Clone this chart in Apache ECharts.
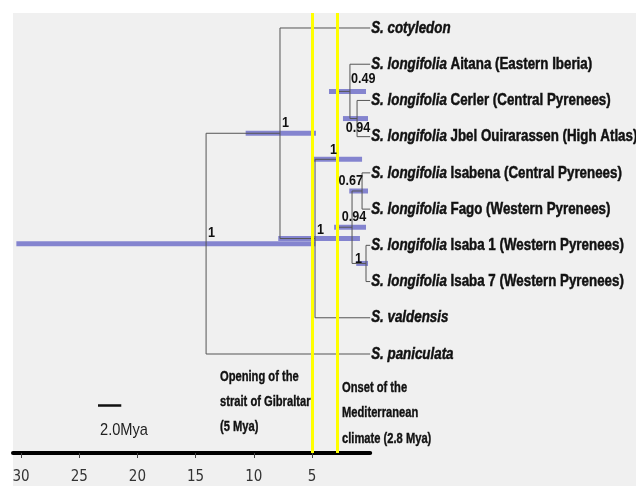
<!DOCTYPE html>
<html><head><meta charset="utf-8">
<script src="https://cdn.jsdelivr.net/npm/echarts@6/dist/echarts.min.js"></script>
<style>html,body{margin:0;padding:0;background:#fff}#c{width:636px;height:486px}</style>
</head><body><div id="c"></div>
<script>
// ---------------- data ----------------
const tipIds = ['cotyledon','aitana','cerler','jbel','isabena','fago','isaba1','isaba7','valdensis','paniculata'];
const tipGenus = ['S. cotyledon','S. longifolia','S. longifolia','S. longifolia','S. longifolia','S. longifolia','S. longifolia','S. longifolia','S. valdensis','S. paniculata'];
const tipLocality = ['','Aitana (Eastern Iberia)','Cerler (Central Pyrenees)','Jbel Ouirarassen (High Atlas)','Isabena (Central Pyrenees)','Fago (Western Pyrenees)','Isaba 1 (Western Pyrenees)','Isaba 7 (Western Pyrenees)','',''];
const tipAges = [0,0,0,0,0,0,0,0,0,0];

const nodeIds = ['root','nA','nB','nC','n049','n094a','n094b','n067','nIsaba'];
const nodeChildren = [['nA','paniculata'],['cotyledon','nB'],['nC','valdensis'],['n049','n094b'],['aitana','n094a'],['cerler','jbel'],['n067','nIsaba'],['isabena','fago'],['isaba1','isaba7']];
const nodeAges = [14.1, 7.75, 4.74, 2.85, 1.74, 1.13, 1.56, 0.70, 0.36];
const nodeHpdMin = [4.7, 4.66, 0.88, 0.7, 0.36, 0.19, 0.36, 0.19, 0.19];
const nodeHpdMax = [30.4, 10.7, 7.9, 4.9, 3.54, 2.34, 3.1, 1.8, 1.2];
const nodeSupport = ['1','1','1','1','0.49','0.94','0.94','0.67','1'];

const eventAges = [5, 2.8];
const eventLabels = [['Opening of the','strait of Gibraltar','(5 Mya)'],['Onset of the','Mediterranean','climate (2.8 Mya)']];

const xTickValues = [30, 25, 20, 15, 10, 5];
const scaleBarLength = 2.0;
const scaleBarLabel = '2.0Mya';

// ---------------- styles ----------------
const FONT = "'Liberation Sans', Arial, sans-serif";
// [align, dx, dy, verticalAlign]
const supportLabelStyle = [
  ['left', 2, -3, 'bottom'], ['left', 2, -3, 'bottom'], ['left', 2, -1, 'bottom'], ['right', 0, -2, 'bottom'],
  ['left', 1, -5, 'bottom'], ['center', 1, 3, 'top'], ['center', 2, -3, 'bottom'], ['right', 1, -3, 'bottom'], ['right', -4, 3, 'bottom']
];
const eventTextPos = [[220, 376.7, 25.2], [342, 388, 25.2]];

// ---------------- tree layout from data ----------------
const ageOf = {}, yOf = {};
tipIds.forEach((id, i) => { ageOf[id] = tipAges[i]; yOf[id] = i; });
nodeIds.forEach((id, i) => { ageOf[id] = nodeAges[i]; });
function getY(id) {
  if (yOf[id] !== undefined) return yOf[id];
  const i = nodeIds.indexOf(id);
  const ys = nodeChildren[i].map(getY);
  yOf[id] = ys.reduce((a, b) => a + b, 0) / ys.length;
  return yOf[id];
}
nodeIds.forEach(getY);

const branchSegs = [];
nodeIds.forEach((id, i) => {
  const ys = nodeChildren[i].map(c => yOf[c]);
  branchSegs.push([ageOf[id], Math.min(...ys), ageOf[id], Math.max(...ys)]);
  nodeChildren[i].forEach(c => branchSegs.push([ageOf[id], yOf[c], ageOf[c], yOf[c]]));
});
const hpdData = nodeIds.map((id, i) => [nodeHpdMin[i], nodeHpdMax[i], yOf[id]]);
const supportData = nodeIds.map((id, i) => [ageOf[id], yOf[id], i]);
const tipData = tipIds.map((id, i) => [ageOf[id], yOf[id], i]);

const chart = echarts.init(document.getElementById('c'), null, {renderer: 'canvas'});
const option = {
  backgroundColor: '#ffffff',
  animation: false,
  grid: {left: 13, right: 265.8, top: 13, bottom: 33},
  xAxis: {
    type: 'value', inverse: true, min: 0, max: 30.69, interval: 5, position: 'bottom',
    axisLine: {show: true, onZero: false, lineStyle: {color: '#000', width: 4}},
    axisTick: {show: true, length: 5, customValues: xTickValues, lineStyle: {color: '#444', width: 1}},
    axisLabel: {show: true, customValues: xTickValues, color: '#333', fontSize: 15, fontFamily: "'DejaVu Sans Condensed', 'Liberation Sans', sans-serif", margin: 17},
    splitLine: {show: false}
  },
  yAxis: {type: 'value', inverse: true, min: -0.414, max: 11.733, show: false},
  graphic: [
    {type: 'rect', z: -10, shape: {x: 13, y: 13, width: 623, height: 473}, style: {fill: '#f0f0f0'}}
  ],
  series: [
    {
      type: 'custom', z: 3, clip: false, data: hpdData, encode: {x: [0, 1], y: 2},
      renderItem: (params, api) => {
        const a = api.coord([api.value(1), api.value(2)]);
        const b = api.coord([api.value(0), api.value(2)]);
        return {type: 'rect', shape: {x: a[0], y: a[1] - 2.5, width: b[0] - a[0], height: 5}, style: {fill: 'rgba(60,60,185,0.6)'}};
      }
    },
    {
      type: 'custom', z: 4, clip: false, data: branchSegs, encode: {x: [0, 2], y: [1, 3]},
      renderItem: (params, api) => {
        const a = api.coord([api.value(0), api.value(1)]);
        const b = api.coord([api.value(2), api.value(3)]);
        return {type: 'line', shape: {x1: a[0], y1: a[1], x2: b[0], y2: b[1]}, style: {stroke: '#555', lineWidth: 1}};
      }
    },
    {
      type: 'line', z: 5, data: [], silent: true,
      markLine: {
        silent: true, symbol: 'none', label: {show: false},
        lineStyle: {color: '#ffff00', width: 3, type: 'solid'},
        data: eventAges.map(a => ({xAxis: a}))
      }
    },
    {
      type: 'custom', z: 6, clip: false, data: supportData, encode: {x: 0, y: 1},
      renderItem: (params, api) => {
        const i = api.value(2);
        const p = api.coord([api.value(0), api.value(1)]);
        const s = supportLabelStyle[i];
        return {type: 'text', x: p[0] + s[1], y: p[1] + s[2], scaleX: 0.9,
          style: {text: nodeSupport[i], fill: '#111', fontSize: 14, fontWeight: 'bold', fontFamily: FONT, align: s[0], verticalAlign: s[3]}};
      }
    },
    {
      type: 'custom', z: 6, clip: false, data: tipData, encode: {x: 0, y: 1},
      renderItem: (params, api) => {
        const i = api.value(2);
        const p = api.coord([api.value(0), api.value(1)]);
        const loc = tipLocality[i];
        const text = loc ? '{i|' + tipGenus[i] + '} ' + loc : '{i|' + tipGenus[i] + '}';
        return {type: 'text', x: p[0] + 1, y: p[1], scaleX: 0.785,
          style: {text: text, fill: '#111', stroke: '#111', lineWidth: 0.5, fontSize: 17, fontWeight: 'bold', fontFamily: FONT, align: 'left', verticalAlign: 'middle',
            rich: {i: {fontStyle: 'italic', fontWeight: 'bold', fontSize: 17, fontFamily: FONT, fill: '#111', stroke: '#111', lineWidth: 0.5}}}};
      }
    }
  ]
};
chart.setOption(option);

// annotations and scale bar (scale bar length through the axis scale)
const x0 = chart.convertToPixel({xAxisIndex: 0}, 0);
const xL = chart.convertToPixel({xAxisIndex: 0}, scaleBarLength);
const barPx = Math.abs(x0 - xL);
const extra = [];
eventLabels.forEach((lines, k) => {
  lines.forEach((t, j) => {
    extra.push({type: 'text', z: 10, x: eventTextPos[k][0], y: eventTextPos[k][1] + j * eventTextPos[k][2], scaleX: 0.72,
      style: {text: t, fill: '#111', stroke: '#111', lineWidth: 0.4, fontSize: 15.5, fontWeight: 'bold', fontFamily: FONT, align: 'left', verticalAlign: 'middle'}});
  });
});
extra.push({type: 'line', z: 10, shape: {x1: 98, y1: 405.5, x2: 98 + barPx, y2: 405.5}, style: {stroke: '#111', lineWidth: 2.5}});
extra.push({type: 'text', z: 10, x: 100, y: 430, scaleX: 0.86,
  style: {text: scaleBarLabel, fill: '#222', fontSize: 17, fontFamily: FONT, align: 'left', verticalAlign: 'middle'}});
chart.setOption({graphic: option.graphic.concat(extra)});
</script>
</body></html>
